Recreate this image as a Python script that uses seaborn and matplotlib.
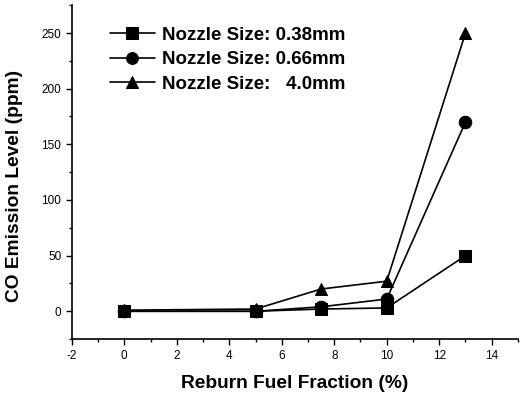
import matplotlib
matplotlib.use("Agg")
import matplotlib.pyplot as plt
from matplotlib.ticker import MultipleLocator
import seaborn as sns
import pandas as pd

x_vals = [0, 5, 7.5, 10, 13]
s038 = [0, 0, 2, 3, 50]
s066 = [0, 0, 4, 11, 170]
s40 = [1, 2, 20, 27, 250]
labels = ["Nozzle Size: 0.38mm", "Nozzle Size: 0.66mm", "Nozzle Size:   4.0mm"]
xticks = [-2, 0, 2, 4, 6, 8, 10, 12, 14]
yticks = [0, 50, 100, 150, 200, 250]

sns.set_theme(style="ticks")
plt.rcParams['font.family'] = ['Liberation Sans', 'DejaVu Sans']
plt.rcParams['axes.unicode_minus'] = False
for k in ['text.color', 'axes.labelcolor', 'xtick.color', 'ytick.color', 'axes.edgecolor']:
    plt.rcParams[k] = 'black'

rows = []
for lab, ys in zip(labels, [s038, s066, s40]):
    for xv, yv in zip(x_vals, ys):
        rows.append({"x": xv, "y": yv, "series": lab})
df = pd.DataFrame(rows)

fig = plt.figure(figsize=(5.28, 3.98), dpi=100)
ax = fig.add_axes([0.136, 0.148, 0.845, 0.839])

sns.lineplot(data=df, x="x", y="y", hue="series", style="series",
             palette={l: "black" for l in labels},
             markers={labels[0]: "s", labels[1]: "o", labels[2]: "^"},
             dashes=False, markersize=9, linewidth=1.2,
             markeredgecolor="black", ax=ax, sort=False)

ax.set_xlim(-2, 15)
ax.set_ylim(-25, 275)
ax.set_xticks(xticks)
ax.set_yticks(yticks)
ax.xaxis.set_minor_locator(MultipleLocator(1))
ax.yaxis.set_minor_locator(MultipleLocator(25))
ax.tick_params(which="major", direction="out", length=4, width=1, labelsize=8.5, color="black", labelcolor="black")
ax.tick_params(which="minor", direction="out", length=2.5, width=1, color="black")
for s in ["top", "right"]:
    ax.spines[s].set_visible(False)
for s in ["left", "bottom"]:
    ax.spines[s].set_linewidth(1.2)
    ax.spines[s].set_color("black")

ax.set_xlabel("Reburn Fuel Fraction (%)", fontsize=13.8, fontweight="bold", labelpad=10, color="black")
ax.set_ylabel("CO Emission Level (ppm)", fontsize=13.8, fontweight="bold", color="black")
ax.yaxis.set_label_coords(-0.11, 0.46)

leg = ax.legend(loc="upper left", bbox_to_anchor=(0.085, 0.935), frameon=False,
                prop={"weight": "bold", "size": 13.5}, handlelength=2.4,
                handletextpad=0.37, labelspacing=0.38, borderaxespad=0,
                borderpad=0)
for t in leg.get_texts():
    t.set_color("black")
for h in leg.legend_handles:
    h.set_markersize(8.5)

fig.savefig("out.png", dpi=100)
